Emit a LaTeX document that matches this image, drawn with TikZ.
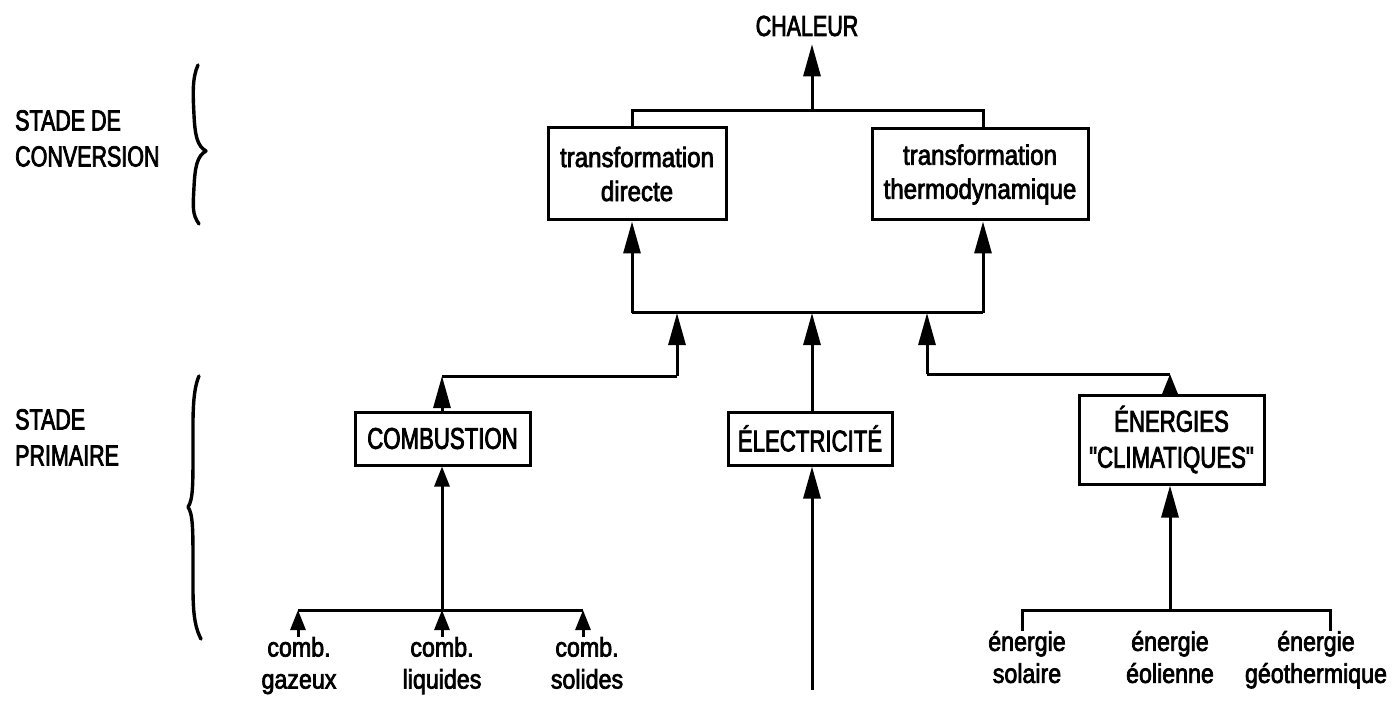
\documentclass[tikz,border=0pt]{standalone}
\usepackage{fontspec}
\newfontfamily\capsfont[FakeStretch=0.74,FakeBold=2.6]{Liberation Sans}
\newfontfamily\lowfont[FakeStretch=0.86,FakeBold=2.6]{Liberation Sans}
\usetikzlibrary{arrows.meta}

\tikzset{
  line/.style={line width=3pt, line cap=butt, line join=miter},
  bigarrow/.style={line, -{Triangle[length=32pt,width=17pt]}},
  smallarrow/.style={line, -{Triangle[length=20pt,width=15pt]}},
  box/.style={draw, line width=3pt, inner sep=0pt, align=center},
  capsbox/.style={box, font=\capsfont\fontsize{30}{36}\selectfont},
  lowbox/.style={box, font=\lowfont\fontsize{28}{34}\selectfont},
  leaf/.style={inner sep=0pt, outer sep=0pt, align=center, anchor=north,
               font=\lowfont\fontsize{27}{32}\selectfont},
  stage/.style={inner sep=0pt, align=left, anchor=north west,
                font=\capsfont\fontsize{29}{36}\selectfont},
  bracket/.style={line width=3.4pt, line cap=round, line join=round}
}

\begin{document}
\begin{tikzpicture}[x=1pt,y=-1pt]
\useasboundingbox (0,0) rectangle (1395,703);
\fill[white] (0,0) rectangle (1395,703);

% ---- stage labels and braces
\node[stage] (conv) at (15,110) {STADE DE\\CONVERSION};
\node[stage] (prim) at (15,409) {STADE\\PRIMAIRE};
\draw[bracket] (198,65) .. controls (192,78) and (193,95) .. (194,115)
  .. controls (195,135) and (197,146) .. (206,151)
  .. controls (197,156) and (195,167) .. (194,187)
  .. controls (193,207) and (192,214) .. (199,224);
\draw[bracket] (199,376) .. controls (192,392) and (193,420) .. (193,450)
  .. controls (193,485) and (193,500) .. (188,507)
  .. controls (193,514) and (193,530) .. (193,565)
  .. controls (193,600) and (192,622) .. (201,639);

% ---- nodes
\node[inner sep=0pt, outer sep=8pt, font=\capsfont\fontsize{29}{35}\selectfont]
  (chaleur) at (807,26) {CHALEUR};
\node[lowbox, minimum width=178pt, minimum height=92pt] (td) at (637,174)
  {transformation\\directe};
\node[lowbox, minimum width=216pt, minimum height=91pt] (tt) at (980,174.5)
  {transformation\\thermodynamique};
\node[capsbox, minimum width=175pt, minimum height=53pt] (comb) at (442.5,438.5)
  {COMBUSTION};
\node[capsbox, minimum width=164pt, minimum height=53pt] (elec) at (810,438.5)
  {ÉLECTRICITÉ};
\node[capsbox, minimum width=185pt, minimum height=89pt] (clim) at (1171.5,439.5)
  {ÉNERGIES\\"CLIMATIQUES"};

\node[leaf] (gaz) at (299,637) {comb.\\gazeux};
\node[leaf] (liq) at (442,637) {comb.\\liquides};
\node[leaf] (sol) at (587,637) {comb.\\solides};
\node[leaf] (sola) at (1027,631) {énergie\\solaire};
\node[leaf] (eol) at (1170,631) {énergie\\éolienne};
\node[leaf] (geo) at (1316,631) {énergie\\géothermique};

% ---- junction points
\coordinate (tL) at (632,111);
\coordinate (tM) at (812,111);
\coordinate (tR) at (983,111);
\coordinate (cL) at (632,313);
\coordinate (cR) at (983,313);
\coordinate (cM) at (812,313);
\coordinate (cA) at (677,313);
\coordinate (cB) at (927,313);
\coordinate (kL) at (442,376);
\coordinate (kA) at (677,376);
\coordinate (kB) at (927,374);
\coordinate (kR) at (1170,374);
\coordinate (bL1) at (298,610);
\coordinate (bL2) at (442,610);
\coordinate (bL3) at (583,610);
\coordinate (bR1) at (1022,610);
\coordinate (bR2) at (1170,610);
\coordinate (bR3) at (1330,610);
\coordinate (foot) at (812,690);

% ---- conversion stage
\draw[line] (td.north -| tL) -- (tL) -- (tR) -- (tt.north -| tR);
\draw[bigarrow] (tM) -- (chaleur.south -| tM);
\draw[line] (cL) -- (cR);
\draw[bigarrow] (cL) -- (td.south -| cL);
\draw[bigarrow] (cR) -- (tt.south -| cR);

% ---- primary stage feeds
\draw[line] (kL) -- (kA);
\draw[bigarrow] (kA) -- (cA);
\draw[bigarrow] (comb.north -| kL) -- (kL);
\draw[bigarrow] (elec.north -| cM) -- (cM);
\draw[line] (kB) -- (kR);
\draw[bigarrow] (kB) -- (cB);
\draw[smallarrow] (clim.north -| kR) -- (kR);
\draw[bigarrow] (foot) -- (elec.south -| foot);

% ---- fuels
\draw[line] (bL1) -- (bL3);
\draw[smallarrow] (bL2) -- (comb.south -| bL2);
\draw[smallarrow] (gaz.north -| bL1) -- (bL1);
\draw[smallarrow] (liq.north -| bL2) -- (bL2);
\draw[smallarrow] (sol.north -| bL3) -- (bL3);

% ---- climatic energies
\draw[line] (sola.north -| bR1) -- (bR1) -- (bR3) -- (geo.north -| bR3);
\draw[bigarrow] (bR2) -- (clim.south -| bR2);
\end{tikzpicture}
\end{document}
